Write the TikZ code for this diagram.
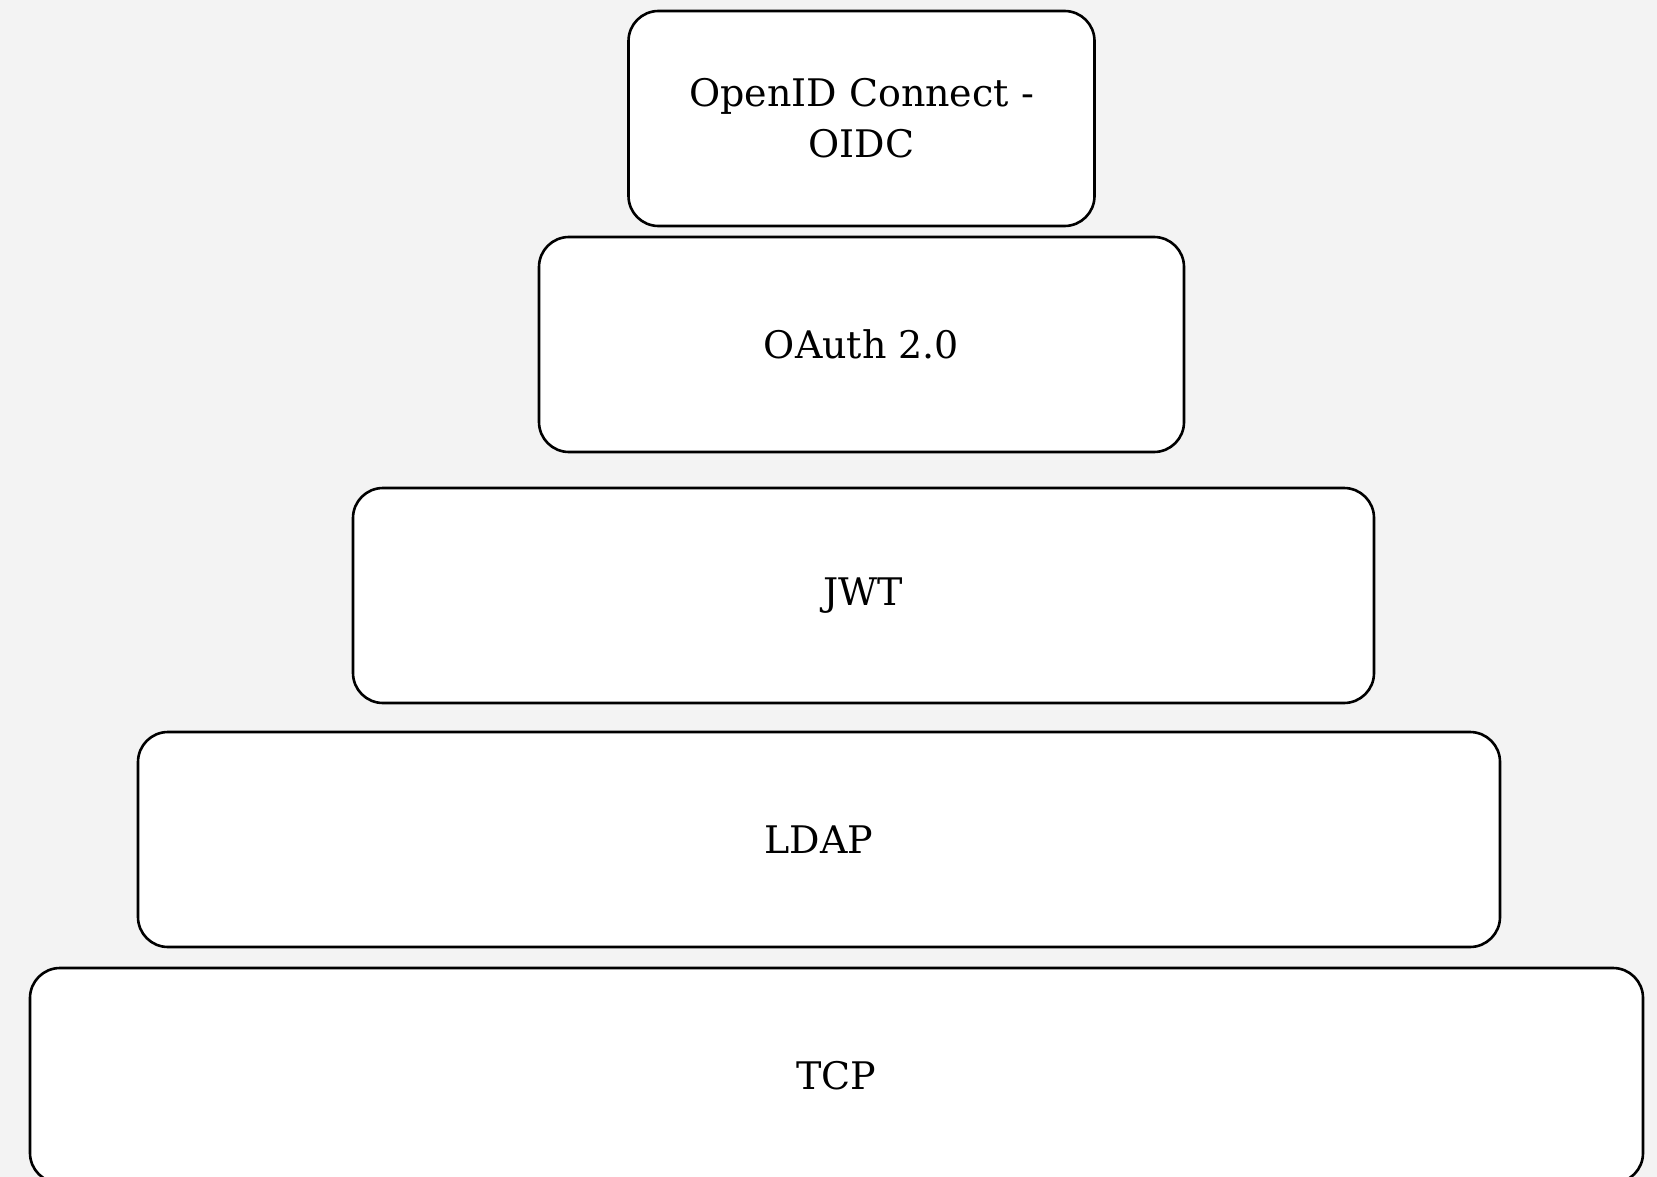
\documentclass[tikz,border=0pt]{standalone}
\usepackage{fontspec}
\setmainfont{DejaVu Serif}
\definecolor{bgc}{RGB}{243,243,243}
\tikzset{
  layer/.style={draw=black, fill=white, line width=2.6pt, rounded corners=30pt,
    inner sep=0pt, minimum height=215pt, align=center,
    font=\fontsize{38}{51}\selectfont}
}
\begin{document}
\begin{tikzpicture}[x=1pt,y=-1pt]
\useasboundingbox (0,0) rectangle (1657,1177);
\clip (0,0) rectangle (1657,1177);
\fill[bgc] (0,0) rectangle (1657,1177);
\node[layer, minimum width=466pt] (oidc) at (861.5,118.5) {OpenID Connect -\\OIDC};
\node[layer, minimum width=645pt] (oauth) at (861.5,344.5) {OAuth 2.0};
\node[layer, minimum width=1021pt] (jwt) at (863.5,595.5) {JWT};
\node[layer, minimum width=1362pt] (ldap) at (819,839.5) {LDAP};
\node[layer, minimum width=1613pt] (tcp) at (836.5,1075.5) {TCP};
\end{tikzpicture}
\end{document}
